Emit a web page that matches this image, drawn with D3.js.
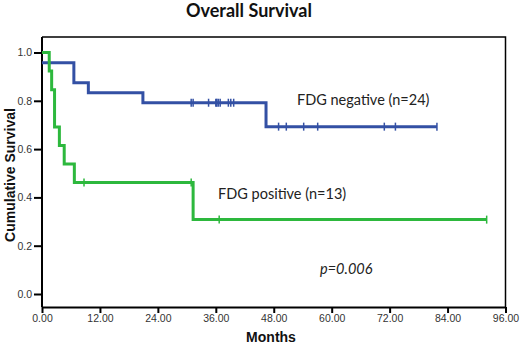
<!DOCTYPE html>
<html>
<head>
<meta charset="utf-8">
<script src="https://cdn.jsdelivr.net/npm/d3@7"></script>
<style>
  body { margin: 0; background: #fff; }
  svg { display: block; }
  .tick text { font-family: "Liberation Sans", Arial, sans-serif; font-size: 10.5px; fill: #333; }
</style>
</head>
<body>
<div id="chart"></div>
<script>
// x axis ticks (months)
const monthTicks = [0, 12, 24, 36, 48, 60, 72, 84, 96]
const survTicks = [0, 0.2, 0.4, 0.6, 0.8, 1.0]

// FDG negative (n=24): step start times and survival after each step
const negTimes = [0, 6.6, 9.6, 20.9, 46.4]
const negSurv = [0.958, 0.875, 0.833, 0.792, 0.693]
const negCensor = [30.9, 31.3, 34.5, 36.0, 36.2, 36.5, 36.9, 38.6, 39.1, 39.7, 49.0, 50.6, 54.2, 57.1, 70.9, 73.2, 81.8]
const negEnd = 81.8

// FDG positive (n=13)
const posTimes = [0, 1.5, 2.0, 2.6, 3.6, 4.6, 6.7, 31.3]
const posSurv = [1.0, 0.923, 0.846, 0.692, 0.615, 0.538, 0.462, 0.308]
const posCensor = [8.7, 30.9, 36.7, 92.1]
const posEnd = 92.1

const width = 520
const height = 345
const box = { left: 42, right: 505.5, top: 37, bottom: 307 }

const svg = d3.select("#chart")
  .append("svg")
  .attr("width", width)
  .attr("height", height)

const xScale = d3.scaleLinear()
  .domain([0, 96])
  .range([box.left, box.right])

const yScale = d3.scaleLinear()
  .domain([0, 1])
  .range([294, 52.5])

// frame (top and right)
svg.append("path")
  .attr("d", `M${box.left},${box.top}H${box.right}V${box.bottom}`)
  .attr("fill", "none")
  .attr("stroke", "#000")
  .attr("stroke-width", 1.5)

const xAxis = svg.append("g")
  .attr("transform", `translate(0,${box.bottom})`)
  .call(d3.axisBottom(xScale).tickValues(monthTicks).tickFormat(d3.format(".2f")).tickSize(6).tickSizeOuter(0).tickPadding(2))
xAxis.select(".domain").attr("stroke-width", 2)
xAxis.selectAll(".tick line").attr("stroke-width", 2)

const yAxis = svg.append("g")
  .attr("transform", `translate(${box.left},0)`)
  .call(d3.axisLeft(yScale).tickValues(survTicks).tickFormat(d3.format(".1f")).tickSize(8).tickSizeOuter(0).tickPadding(2))
yAxis.select(".domain").attr("d", `M0,${box.top}V${box.bottom}`).attr("stroke-width", 2)
yAxis.selectAll(".tick line").attr("stroke-width", 2)

const lineGenerator = d3.line()
  .x(d => xScale(d[0]))
  .y(d => yScale(d[1]))
  .curve(d3.curveStepAfter)

function survAt(times, surv, t) {
  let s = surv[0]
  times.forEach((tt, i) => { if (tt <= t) s = surv[i] })
  return s
}

function drawCurve(times, surv, end, censor, color) {
  const pts = times.map((t, i) => [t, surv[i]])
  pts.push([end, surv[surv.length - 1]])
  svg.append("path")
    .attr("d", lineGenerator(pts))
    .attr("fill", "none")
    .attr("stroke", color)
    .attr("stroke-width", 3)

  svg.append("g")
    .selectAll("line")
    .data(censor)
    .join("line")
    .attr("x1", d => xScale(d))
    .attr("x2", d => xScale(d))
    .attr("y1", d => yScale(survAt(times, surv, d)) - 4)
    .attr("y2", d => yScale(survAt(times, surv, d)) + 4)
    .attr("stroke", color)
    .attr("stroke-width", 1.5)
}

drawCurve(negTimes, negSurv, negEnd, negCensor, "#3350a4")
drawCurve(posTimes, posSurv, posEnd, posCensor, "#2db83d")

svg.append("text")
  .attr("x", 249)
  .attr("y", 17)
  .attr("text-anchor", "middle")
  .attr("font-family", "Lato, sans-serif")
  .attr("font-weight", "bold")
  .attr("font-size", 18)
  .attr("fill", "#111")
  .text("Overall Survival")

svg.append("text")
  .attr("transform", `translate(15,175) rotate(-90)`)
  .attr("text-anchor", "middle")
  .attr("font-family", "Liberation Sans, Arial, sans-serif")
  .attr("font-weight", "bold")
  .attr("font-size", 14)
  .attr("fill", "#111")
  .text("Cumulative Survival")

svg.append("text")
  .attr("x", 271)
  .attr("y", 342)
  .attr("text-anchor", "middle")
  .attr("font-family", "Liberation Sans, Arial, sans-serif")
  .attr("font-weight", "bold")
  .attr("font-size", 14)
  .attr("fill", "#111")
  .text("Months")

const labelFont = "Lato, sans-serif"
svg.append("text")
  .attr("x", 297)
  .attr("y", 105)
  .attr("font-family", labelFont)
  .attr("font-size", 14.5)
  .attr("fill", "#222")
  .text("FDG negative (n=24)")

svg.append("text")
  .attr("x", 218)
  .attr("y", 199)
  .attr("font-family", labelFont)
  .attr("font-size", 14.5)
  .attr("fill", "#222")
  .text("FDG positive (n=13)")

svg.append("text")
  .attr("x", 320)
  .attr("y", 274)
  .attr("font-family", labelFont)
  .attr("font-style", "italic")
  .attr("font-size", 14.5)
  .attr("fill", "#222")
  .text("p=0.006")
</script>
</body>
</html>
